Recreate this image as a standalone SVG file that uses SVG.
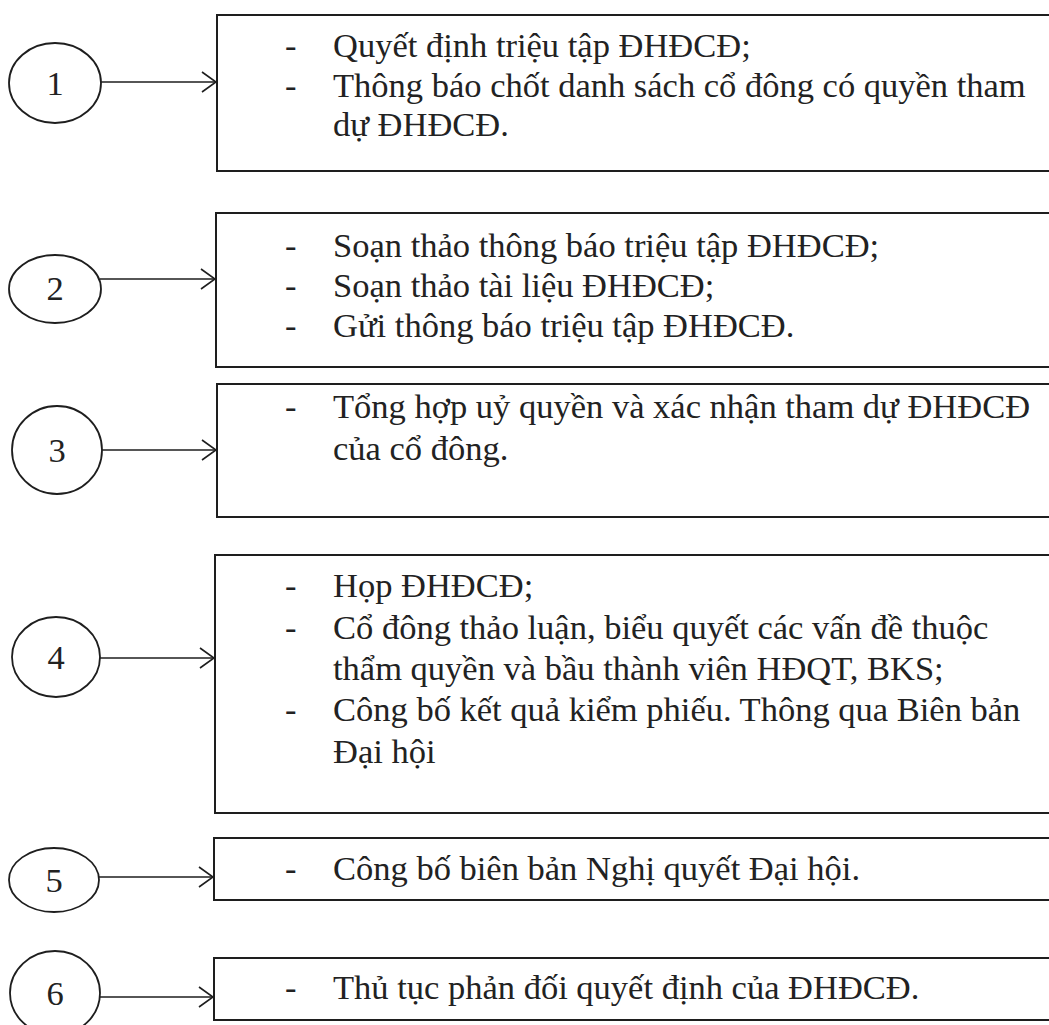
<svg xmlns="http://www.w3.org/2000/svg" width="1049" height="1025" viewBox="0 0 1049 1025">
<style>
.bg{fill:#ffffff}
.box{fill:none;stroke:#1e1e1e;stroke-width:2}
.node{fill:none;stroke:#1e1e1e;stroke-width:1.8}
.t{font-family:"Liberation Serif","Times New Roman",serif;font-size:34.5px;fill:#222222}
.num{font-family:"Liberation Serif","Times New Roman",serif;font-size:34.5px;fill:#222222;text-anchor:middle}
.conn{stroke:#1e1e1e;stroke-width:1.6;fill:none;marker-end:url(#arr)}
</style>
<defs>
<marker id="arr" viewBox="0 0 16 22" refX="15" refY="11" markerWidth="16" markerHeight="22" markerUnits="userSpaceOnUse" orient="auto">
<path d="M1,1 L15,11 L1,21" fill="none" stroke="#1e1e1e" stroke-width="1.6"/>
</marker>
</defs>
<rect class="bg" x="0" y="0" width="1049" height="1025"/>

<g id="connectors">
<line class="conn" x1="100" y1="82" x2="216" y2="82"/>
<line class="conn" x1="100" y1="279" x2="215" y2="279"/>
<line class="conn" x1="102" y1="450" x2="216" y2="450"/>
<line class="conn" x1="100" y1="658" x2="214" y2="658"/>
<line class="conn" x1="99" y1="877" x2="213" y2="877"/>
<line class="conn" x1="100" y1="997" x2="213" y2="997"/>
</g>

<g id="node1">
<ellipse class="node" cx="55" cy="83" rx="46" ry="40"/>
<text class="num" x="55" y="95">1</text>
</g>
<g id="node2">
<ellipse class="node" cx="55" cy="289" rx="46" ry="34"/>
<text class="num" x="55" y="300">2</text>
</g>
<g id="node3">
<ellipse class="node" cx="57" cy="450" rx="45" ry="44"/>
<text class="num" x="57" y="462">3</text>
</g>
<g id="node4">
<ellipse class="node" cx="56" cy="657" rx="44" ry="40"/>
<text class="num" x="56" y="669">4</text>
</g>
<g id="node5">
<ellipse class="node" cx="54" cy="880" rx="45" ry="32"/>
<text class="num" x="54" y="892">5</text>
</g>
<g id="node6">
<ellipse class="node" cx="55" cy="993" rx="45" ry="42"/>
<text class="num" x="55" y="1005">6</text>
</g>

<g id="box1">
<rect class="box" x="217" y="15" width="850" height="156"/>
<text class="t" x="285" y="57">-</text>
<text class="t" x="333" y="57">Quyết định triệu tập ĐHĐCĐ;</text>
<text class="t" x="285" y="97">-</text>
<text class="t" x="333" y="97">Thông báo chốt danh sách cổ đông có quyền tham</text>
<text class="t" x="333" y="136">dự ĐHĐCĐ.</text>
</g>

<g id="box2">
<rect class="box" x="216" y="213" width="850" height="154"/>
<text class="t" x="285" y="257">-</text>
<text class="t" x="333" y="257">Soạn thảo thông báo triệu tập ĐHĐCĐ;</text>
<text class="t" x="285" y="297">-</text>
<text class="t" x="333" y="297">Soạn thảo tài liệu ĐHĐCĐ;</text>
<text class="t" x="285" y="337">-</text>
<text class="t" x="333" y="337">Gửi thông báo triệu tập ĐHĐCĐ.</text>
</g>

<g id="box3">
<rect class="box" x="217" y="384" width="850" height="133"/>
<text class="t" x="285" y="418">-</text>
<text class="t" x="333" y="418">Tổng hợp uỷ quyền và xác nhận tham dự ĐHĐCĐ</text>
<text class="t" x="333" y="460">của cổ đông.</text>
</g>

<g id="box4">
<rect class="box" x="215" y="555" width="850" height="258"/>
<text class="t" x="285" y="597">-</text>
<text class="t" x="333" y="597">Họp ĐHĐCĐ;</text>
<text class="t" x="285" y="639">-</text>
<text class="t" x="333" y="639">Cổ đông thảo luận, biểu quyết các vấn đề thuộc</text>
<text class="t" x="333" y="680">thẩm quyền và bầu thành viên HĐQT, BKS;</text>
<text class="t" x="285" y="721">-</text>
<text class="t" x="333" y="721">Công bố kết quả kiểm phiếu. Thông qua Biên bản</text>
<text class="t" x="333" y="763">Đại hội</text>
</g>

<g id="box5">
<rect class="box" x="214" y="838" width="850" height="62"/>
<text class="t" x="285" y="880">-</text>
<text class="t" x="333" y="880">Công bố biên bản Nghị quyết Đại hội.</text>
</g>

<g id="box6">
<rect class="box" x="214" y="958" width="850" height="62"/>
<text class="t" x="285" y="999">-</text>
<text class="t" x="333" y="999">Thủ tục phản đối quyết định của ĐHĐCĐ.</text>
</g>
</svg>
